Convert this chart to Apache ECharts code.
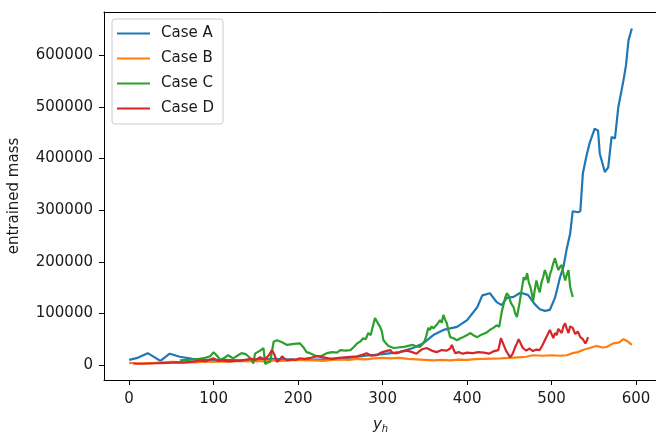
<!DOCTYPE html>
<html>
<head>
<meta charset="utf-8">
<script src="https://cdn.jsdelivr.net/npm/echarts@6/dist/echarts.min.js"></script>
<style>html,body{margin:0;padding:0;background:#fff}#c{width:656px;height:432px}</style>
</head>
<body>
<div id="c"></div>
<script>
const seriesNames = ['Case A', 'Case B', 'Case C', 'Case D'];
const xTicks = [0, 100, 200, 300, 400, 500, 600];
const yTicks = [0, 100000, 200000, 300000, 400000, 500000, 600000];

const xA = [0,10,22,37,48,60,75,90,110,130,150,170,200,230,260,280,300,320,336,348,360,372,388,400,412,418,427,435,441,447,455,463,472,480,486,492,498,504,510,514,518,522,525,531,534,537,541,545,551,555,557,563,567,571,575,579,585,588,591,595];
const yA = [10000,14000,23000,8000,22000,16000,12000,10000,10000,9000,11000,12000,10000,11000,14000,18000,21000,25000,33000,42000,58000,68000,74000,87000,112000,135000,139000,122000,116000,130000,132000,140000,136000,118000,108000,105000,107000,130000,170000,190000,226000,255000,298000,296000,298000,371000,403000,430000,458000,454000,410000,374000,383000,442000,439000,500000,551000,580000,629000,652000];

const xB = [0,10,20,30,40,50,60,70,80,90,100,110,120,130,140,150,160,170,180,190,200,210,220,230,240,250,260,270,280,290,300,310,320,330,340,350,360,370,380,390,400,410,420,430,440,450,460,470,478,490,500,510,518,525,531,537,545,553,560,565,573,580,585,590,595];
const yB = [4000,3000,3500,4000,5000,6000,5500,6000,5000,7000,6000,7000,6500,8000,7000,8000,7000,9000,8000,9000,10000,9000,9000,8000,10000,11000,10000,12000,11000,13000,14000,13000,14000,12000,11000,10000,9000,10000,9000,10500,10000,11500,12000,12500,13000,14000,15000,16000,19000,18000,19000,18000,19000,23000,25000,29000,33000,37000,34000,35000,42000,44000,50000,46000,39000];

const xC = [60,70,80,90,96,100,104,108,113,117,120,123,128,133,138,141,145,147,149,152,155,159,161,164,167,171,175,181,187,195,202,206,210,214,218,222,228,234,240,246,250,256,262,266,270,274,277,280,283,286,288,291,293,295,297,299,301,304,307,310,313,318,325,330,336,340,344,347,350,352,354,356,358,360,362,365,368,370,372,374,376,378,380,384,388,392,395,400,404,408,412,416,419,423,427,431,435,438,441,443,445,447,449,452,455,457,459,462,465,467,469,471,473,475,477,478,480,482,484,486,488,490,492,494,496,498,500,502,504,506,508,510,512,514,516,518,520,522,525];
const yC = [9000,10000,11000,14000,17000,25000,18000,10000,14000,19000,16000,13000,18000,23000,21000,17000,10000,3000,22000,25000,28000,33000,2000,5000,6000,45000,48000,44000,39000,41000,42000,35000,25000,23000,20000,17000,18000,23000,25000,24000,29000,28000,29000,35000,42000,46000,52000,50000,62000,58000,72000,91000,85000,88000,74000,66000,48000,42000,37000,35000,33000,34000,35000,37000,39000,36000,35000,40000,48000,58000,72000,68000,75000,71000,68000,80000,87000,82000,97000,88000,81000,66000,54000,52000,48000,52000,54000,58000,62000,57000,54000,58000,60000,63000,68000,72000,77000,74000,103000,100000,130000,139000,135000,120000,112000,100000,93000,120000,150000,170000,165000,178000,160000,151000,135000,122000,145000,164000,150000,141000,160000,170000,184000,175000,159000,175000,185000,197000,207000,195000,184000,190000,194000,178000,164000,175000,184000,151000,132000];

const xD = [5,15,25,35,45,55,65,75,84,90,95,100,105,110,118,125,131,138,145,150,155,160,165,169,172,175,178,181,184,187,192,197,202,208,215,222,230,236,241,248,255,262,270,276,281,287,293,298,304,309,312,317,322,329,335,340,346,352,358,364,370,376,380,382,384,386,390,395,400,407,413,420,426,432,437,440,443,446,449,451,454,457,459,461,463,466,470,474,478,482,486,489,492,495,498,500,502,504,506,508,510,512,514,516,518,520,522,525,528,531,534,537,540,542,543];
const yD = [3000,2500,3000,3500,4000,5000,4500,6000,9000,7000,10000,13000,8000,9000,7000,8000,8000,10000,12000,10000,15000,11000,18000,29000,20000,6000,10000,17000,12000,9000,11000,10000,13000,12000,14000,17000,15000,13000,12000,14000,15000,16000,17000,20000,23000,18000,19000,24000,27000,29000,23000,23000,26000,28000,25000,22000,30000,33000,28000,25000,29000,28000,32000,39000,30000,23000,25000,22000,24000,23000,25000,24000,22000,27000,29000,52000,40000,28000,20000,15000,22000,35000,42000,50000,52000,33000,28000,32000,27000,30000,29000,38000,48000,58000,68000,60000,52000,62000,58000,70000,72000,62000,75000,81000,70000,62000,75000,72000,60000,65000,54000,50000,42000,48000,54000];

const colors = ['#1f77b4', '#ff7f0e', '#2ca02c', '#d62728'];
const xs = [xA, xB, xC, xD];
const ys = [yA, yB, yC, yD];

const FONT = 'DejaVu Sans';
const FS = 15;
const TXT = '#1a1a1a';
const chart = echarts.init(document.getElementById('c'), null, {renderer: 'canvas'});
chart.setOption({
  animation: false,
  backgroundColor: '#fff',
  textStyle: {fontFamily: FONT},
  grid: {left: 104, top: 12, width: 553, height: 368, show: false, containLabel: false, outerBoundsMode: 'none'},
  legend: {
    data: seriesNames,
    orient: 'vertical',
    left: 112, top: 19,
    padding: [7, 9, 8, 5],
    itemGap: 10,
    itemWidth: 33, itemHeight: 2,
    icon: 'rect',
    backgroundColor: 'rgba(255,255,255,0.8)',
    borderColor: '#cccccc', borderWidth: 1, borderRadius: 3,
    textStyle: {fontFamily: FONT, fontSize: FS, color: TXT, padding: [0, 0, 0, 6], lineHeight: 15}
  },
  xAxis: [{
    type: 'value', min: -29.75, max: 624.75,
    name: '{i|y}{s|h}', nameLocation: 'middle', nameGap: 36,
    nameTextStyle: {rich: {i: {fontFamily: FONT, fontStyle: 'italic', fontSize: FS, color: TXT}, s: {fontFamily: FONT, fontStyle: 'italic', fontSize: 10, color: TXT, padding: [8, 0, 0, 0]}}},
    axisLine: {show: true, onZero: false, lineStyle: {color: '#000', width: 1}},
    axisTick: {show: true, inside: false, length: 5, lineStyle: {color: '#000'}, customValues: xTicks},
    axisLabel: {fontFamily: FONT, fontSize: FS, color: TXT, margin: 12, customValues: xTicks, formatter: v => String(v)},
    splitLine: {show: false}
  }, {
    type: 'value', position: 'top', min: -29.75, max: 624.75,
    axisLine: {show: true, onZero: false, lineStyle: {color: '#000', width: 1}},
    axisTick: {show: false}, axisLabel: {show: false}, splitLine: {show: false}
  }],
  yAxis: {
    type: 'value', min: -29000, max: 684000,
    name: 'entrained mass', nameLocation: 'middle', nameGap: 82, nameRotate: 90,
    nameTextStyle: {fontFamily: FONT, fontSize: FS, color: TXT},
    axisLine: {show: true, onZero: false, lineStyle: {color: '#000', width: 1}},
    axisTick: {show: true, inside: false, length: 5, lineStyle: {color: '#000'}, customValues: yTicks},
    axisLabel: {fontFamily: FONT, fontSize: FS, color: TXT, margin: 11, customValues: yTicks, formatter: v => String(v)},
    splitLine: {show: false}
  },
  series: seriesNames.map((n, k) => ({
    name: n, type: 'line', showSymbol: false, symbol: 'none',
    xAxisIndex: 0,
    data: xs[k].map((x, i) => [x, ys[k][i]]),
    lineStyle: {color: colors[k], width: 2.2},
    itemStyle: {color: colors[k]},
    clip: true
  }))
});
</script>
</body>
</html>
